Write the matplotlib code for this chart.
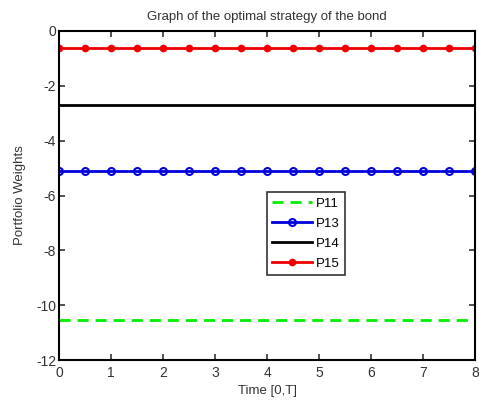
import numpy as np
import matplotlib
matplotlib.use("Agg")
import matplotlib.pyplot as plt

plt.rcParams['font.family'] = ['Liberation Sans', 'DejaVu Sans']
plt.rcParams['axes.unicode_minus'] = False

time = [0, 0.5, 1, 1.5, 2, 2.5, 3, 3.5, 4, 4.5, 5, 5.5, 6, 6.5, 7, 7.5, 8]
p11 = [-10.55] * len(time)
p13 = [-5.12] * len(time)
p14 = [-2.70] * len(time)
p15 = [-0.62] * len(time)
xticks = [0, 1, 2, 3, 4, 5, 6, 7, 8]
yticks = [-12, -10, -8, -6, -4, -2, 0]

fig = plt.figure(figsize=(4.79, 4.04), dpi=100)
ax = fig.add_axes([59/479, 1-360/404, (475-59)/479, (360-31)/404])

ax.plot(time, p11, color='#00ee00', linestyle='--', lw=2, dashes=(4, 2.5), label='P11')
ax.plot(time, p13, color='#0000dd', lw=2, marker='o', ms=5, mfc='none', mew=1.5, label='P13')
ax.plot(time, p14, color='black', lw=2, label='P14')
ax.plot(time, p15, color='#ee0000', lw=2, marker='o', ms=4.5, label='P15')

ax.set_xlim(0, 8)
ax.set_ylim(-12, 0)
ax.set_xticks(xticks)
ax.set_yticks(yticks)
ax.tick_params(direction='in', length=4, width=1.2, labelsize=10, colors='#333333', top=True, right=True)
ax.tick_params(axis='x', pad=4)
ax.tick_params(axis='y', pad=2)
for s in ax.spines.values():
    s.set_linewidth(1.5)
ax.set_title('Graph of the optimal strategy of the bond', fontsize=9.5, color='#333333', pad=8)
ax.set_xlabel('Time [0,T]', fontsize=9.5, color='#333333', labelpad=4)
ax.set_ylabel('Portfolio Weights', fontsize=9.5, color='#333333', labelpad=7)

leg = ax.legend(loc='upper left', bbox_to_anchor=((267-59)/416, 1-(192-31)/329), fontsize=9.5,
                frameon=True, fancybox=False, edgecolor='black', borderpad=0.4,
                handlelength=3.0, labelspacing=0.6, handletextpad=0.3, borderaxespad=0)
leg.get_frame().set_linewidth(1.2)

fig.savefig('out.png', dpi=100)
